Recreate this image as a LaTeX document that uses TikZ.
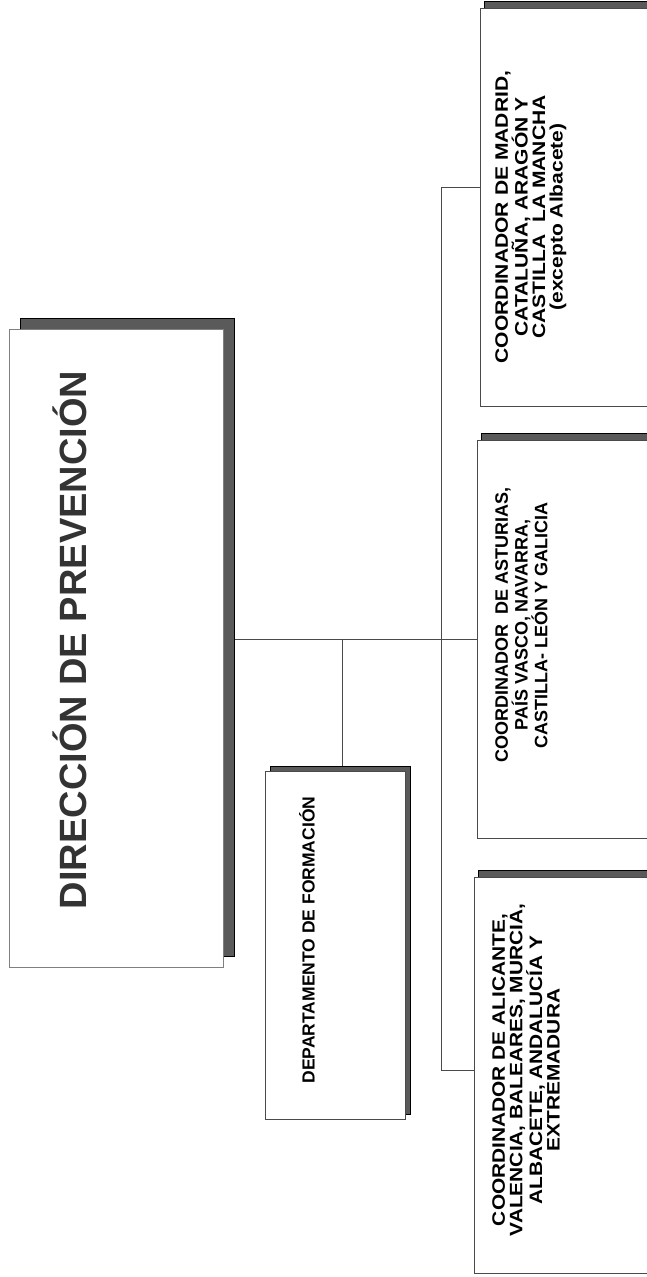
\documentclass[tikz,border=0pt]{standalone}
\usepackage{fontspec}
\setmainfont{Liberation Sans}
\usetikzlibrary{shadows,backgrounds}
\definecolor{gsombra}{HTML}{5A5A5A}
\definecolor{glinea}{HTML}{4A4A4A}
\definecolor{gborde}{HTML}{808080}
\definecolor{gletra}{HTML}{333333}
\begin{document}
\begin{tikzpicture}[x=1pt,y=-1pt,
    caja/.style={rectangle,draw=gborde,fill=white,line width=.8pt,inner sep=0pt},
    sombra/.style 2 args={copy shadow={shadow xshift=#1,shadow yshift=#2,
                          fill=gsombra,draw=black,line width=.6pt}},
    ctxt/.style={rotate=90,anchor=north,align=center,inner sep=0pt,
                 font=\fontsize{18}{17.5}\selectfont\bfseries}
                   ]
    \useasboundingbox (0,0) rectangle (646,1277);

    \node[caja,sombra={11pt}{11pt},minimum width=214pt,minimum height=638pt](dir) at (116,648){};
    \node[rotate=90,text=gletra,font=\fontsize{38}{40}\selectfont\bfseries](dirt) at (70,640){DIRECCIÓN DE PREVENCIÓN};

    \node[caja,draw=glinea,sombra={5pt}{5pt},minimum width=140pt,minimum height=348pt](dep) at (335,945){};
    \node[rotate=90,font=\fontsize{17.5}{20}\selectfont\bfseries](dept) at (307,940){DEPARTAMENTO DE FORMACIÓN};

    \node[caja,draw=glinea,sombra={4pt}{7pt},minimum width=220pt,minimum height=398pt](mad) at (590,207){};
    \node[ctxt,xscale=1.17](madt) at (495,217){COORDINADOR DE MADRID,\\CATALUÑA, ARAGÓN Y\\CASTILLA\ \ LA MANCHA\\(excepto Albacete)};

    \node[caja,draw=glinea,sombra={4pt}{7pt},minimum width=220pt,minimum height=398pt](ast) at (587,639){};
    \node[ctxt](astt) at (495,625){COORDINADOR\ \ DE ASTURIAS,\\PAÍS VASCO, NAVARRA,\\CASTILLA- LEÓN Y GALICIA};

    \node[caja,draw=glinea,sombra={4pt}{7pt},minimum width=220pt,minimum height=396pt](ali) at (584,1075){};
    \node[ctxt,xscale=1.16](alit) at (492,1070){COORDINADOR DE ALICANTE,\\VALENCIA, BALEARES, MURCIA,\\ALBACETE, ANDALUCÍA Y\\EXTREMADURA};

    \coordinate (b1) at (441,187);
    \coordinate (b2) at (441,1070);
    \coordinate (b3) at (342,640);
    \begin{scope}[on background layer]
    \draw[glinea,line width=.8pt] (dir.east |- ast.west) -- (ast.west);
    \draw[glinea,line width=.8pt] (mad.west |- b1) -- (b1) -- (b2) -- (ali.west |- b2);
    \draw[glinea,line width=.8pt] (b3) -- (b3 |- dep.north);
    \end{scope}

\end{tikzpicture}
\end{document}
